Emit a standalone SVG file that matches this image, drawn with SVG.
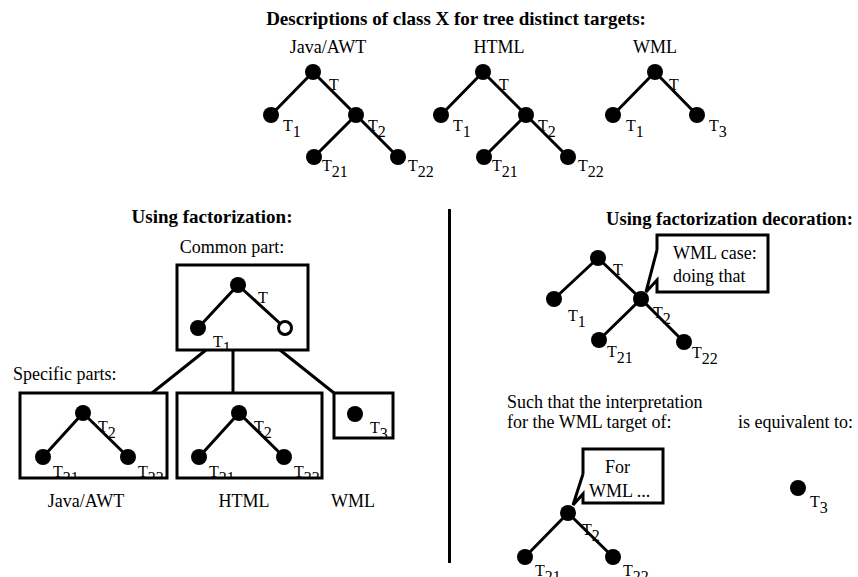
<svg xmlns="http://www.w3.org/2000/svg" width="858" height="577" viewBox="0 0 858 577">
  <style>
    text { font-family: "Liberation Serif", "Times New Roman", serif; fill: #000; }
    .h { font-size: 19px; font-weight: bold; }
    .t { font-size: 18px; }
    .l { font-size: 16px; }
    .e { stroke: #000; stroke-width: 3; fill: none; }
    .box { stroke: #000; stroke-width: 3; fill: none; }
    .dot { fill: #000; }
    .hole { fill: #fff; stroke: #000; stroke-width: 3; }
  </style>
  <defs>
    <clipPath id="clipCommon"><rect x="177" y="265" width="131" height="85"/></clipPath>
    <clipPath id="clipJava"><rect x="20" y="393" width="147" height="85"/></clipPath>
    <clipPath id="clipHtml"><rect x="177" y="393" width="145" height="85"/></clipPath>
    <clipPath id="clipWml"><rect x="334" y="393" width="59" height="45"/></clipPath>
  </defs>

  <rect width="858" height="577" fill="#fff"/>

  <!-- headings -->
  <text class="h" x="456" y="25" text-anchor="middle">Descriptions of class X for tree distinct targets:</text>
  <text class="t" x="328" y="53" text-anchor="middle">Java/AWT</text>
  <text class="t" x="499" y="53" text-anchor="middle">HTML</text>
  <text class="t" x="655" y="53" text-anchor="middle">WML</text>

  <!-- connectors -->
  <g id="connectors">
    <!-- top row trees -->
    <path class="e" d="M313,72 L271,115 M313,72 L356,115 L314,157 M356,115 L398,157"/>
    <path class="e" d="M483,72 L441,115 M483,72 L526,115 L484,157 M526,115 L568,157"/>
    <path class="e" d="M655,72 L613,115 M655,72 L697,115"/>
    <!-- common part -->
    <path class="e" d="M238,285 L198,328 M238,285 L285,328"/>
    <!-- common part to specific parts -->
    <path class="e" d="M206,350 L152,393 M233,350 L233,393 M280,350 L334,393"/>
    <!-- specific parts -->
    <path class="e" d="M83,413 L43,457 M83,413 L128,457"/>
    <path class="e" d="M239,413 L199,457 M239,413 L284,457"/>
    <!-- decorated tree -->
    <path class="e" d="M598,258 L554,299 M598,258 L641,299 L599,340 M641,299 L684,342"/>
    <!-- interpreted subtree -->
    <path class="e" d="M568,513 L525,557 M568,513 L613,557"/>
    <!-- divider -->
    <path class="e" d="M449.5,209 L449.5,563"/>
  </g>

  <!-- Java/AWT tree -->
  <g id="tree-java">
    <circle class="dot" cx="313" cy="72" r="8"/>
    <circle class="dot" cx="271" cy="115" r="8"/>
    <circle class="dot" cx="356" cy="115" r="8"/>
    <circle class="dot" cx="314" cy="157" r="8"/>
    <circle class="dot" cx="398" cy="157" r="8"/>
    <text class="l" x="329" y="90">T</text>
    <text class="l" x="283" y="131">T<tspan dy="6">1</tspan></text>
    <text class="l" x="368" y="131">T<tspan dy="6">2</tspan></text>
    <text class="l" x="322" y="171">T<tspan dy="6">21</tspan></text>
    <text class="l" x="408" y="171">T<tspan dy="6">22</tspan></text>
  </g>

  <!-- HTML tree -->
  <g id="tree-html">
    <circle class="dot" cx="483" cy="72" r="8"/>
    <circle class="dot" cx="441" cy="115" r="8"/>
    <circle class="dot" cx="526" cy="115" r="8"/>
    <circle class="dot" cx="484" cy="157" r="8"/>
    <circle class="dot" cx="568" cy="157" r="8"/>
    <text class="l" x="499" y="90">T</text>
    <text class="l" x="453" y="131">T<tspan dy="6">1</tspan></text>
    <text class="l" x="538" y="131">T<tspan dy="6">2</tspan></text>
    <text class="l" x="492" y="171">T<tspan dy="6">21</tspan></text>
    <text class="l" x="578" y="171">T<tspan dy="6">22</tspan></text>
  </g>

  <!-- WML tree -->
  <g id="tree-wml">
    <circle class="dot" cx="655" cy="72" r="8"/>
    <circle class="dot" cx="613" cy="115" r="8"/>
    <circle class="dot" cx="697" cy="115" r="8"/>
    <text class="l" x="669" y="90">T</text>
    <text class="l" x="626" y="131">T<tspan dy="6">1</tspan></text>
    <text class="l" x="709" y="131">T<tspan dy="6">3</tspan></text>
  </g>

  <!-- factorization -->
  <text class="h" x="212" y="223" text-anchor="middle">Using factorization:</text>
  <text class="t" x="232" y="253" text-anchor="middle">Common part:</text>
  <text class="t" x="13" y="380">Specific parts:</text>

  <g id="common-part">
    <g clip-path="url(#clipCommon)">
      <circle class="dot" cx="238" cy="285" r="8"/>
      <circle class="dot" cx="198" cy="328" r="8"/>
      <circle class="hole" cx="285" cy="328" r="6.5"/>
      <text class="l" x="258" y="303">T</text>
      <text class="l" x="213" y="347">T<tspan dy="6">1</tspan></text>
    </g>
    <rect class="box" x="177" y="265" width="131" height="85"/>
  </g>

  <g id="specific-java">
    <g clip-path="url(#clipJava)">
      <circle class="dot" cx="83" cy="413" r="8"/>
      <circle class="dot" cx="43" cy="457" r="8"/>
      <circle class="dot" cx="128" cy="457" r="8"/>
      <text class="l" x="98" y="432">T<tspan dy="6">2</tspan></text>
      <text class="l" x="53" y="477">T<tspan dy="6">21</tspan></text>
      <text class="l" x="138" y="477">T<tspan dy="6">22</tspan></text>
    </g>
    <rect class="box" x="20" y="393" width="147" height="85"/>
  </g>

  <g id="specific-html">
    <g clip-path="url(#clipHtml)">
      <circle class="dot" cx="239" cy="413" r="8"/>
      <circle class="dot" cx="199" cy="457" r="8"/>
      <circle class="dot" cx="284" cy="457" r="8"/>
      <text class="l" x="254" y="432">T<tspan dy="6">2</tspan></text>
      <text class="l" x="209" y="477">T<tspan dy="6">21</tspan></text>
      <text class="l" x="294" y="477">T<tspan dy="6">22</tspan></text>
    </g>
    <rect class="box" x="177" y="393" width="145" height="85"/>
  </g>

  <g id="specific-wml">
    <g clip-path="url(#clipWml)">
      <circle class="dot" cx="355" cy="414" r="8"/>
      <text class="l" x="370" y="433">T<tspan dy="6">3</tspan></text>
    </g>
    <rect class="box" x="334" y="393" width="59" height="45"/>
  </g>

  <text class="t" x="86" y="507" text-anchor="middle">Java/AWT</text>
  <text class="t" x="244" y="507" text-anchor="middle">HTML</text>
  <text class="t" x="353" y="507" text-anchor="middle">WML</text>

  <!-- factorization decoration -->
  <text class="h" x="606" y="225" style="font-size:18.6px">Using factorization decoration:</text>

  <g id="tree-decorated">
    <circle class="dot" cx="598" cy="258" r="8"/>
    <circle class="dot" cx="554" cy="299" r="8"/>
    <circle class="dot" cx="641" cy="299" r="8"/>
    <circle class="dot" cx="599" cy="340" r="8"/>
    <circle class="dot" cx="684" cy="342" r="8"/>
    <text class="l" x="613" y="275">T</text>
    <text class="l" x="568" y="321">T<tspan dy="6">1</tspan></text>
    <text class="l" x="653" y="318">T<tspan dy="6">2</tspan></text>
    <text class="l" x="607" y="357">T<tspan dy="6">21</tspan></text>
    <text class="l" x="692" y="358">T<tspan dy="6">22</tspan></text>
  </g>

  <g id="note-wml-case">
    <path class="box" d="M657,250 V235 H768 V292 H657 V280 L646,292 L657,250"/>
    <text class="t" x="673" y="259">WML case:</text>
    <text class="t" x="673" y="282">doing that</text>
  </g>

  <text class="t" x="507" y="408">Such that the interpretation</text>
  <text class="t" x="507" y="428">for the WML target of:</text>
  <text class="t" x="738" y="428">is equivalent to:</text>

  <g id="note-for-wml">
    <path class="box" d="M583,474 V449 H663 V503 H583 V494 L573,505 L583,474"/>
    <text class="t" x="605" y="473">For</text>
    <text class="t" x="589" y="497">WML ...</text>
  </g>

  <g id="tree-interpreted">
    <circle class="dot" cx="568" cy="513" r="8"/>
    <circle class="dot" cx="525" cy="557" r="8"/>
    <circle class="dot" cx="613" cy="557" r="8"/>
    <text class="l" x="582" y="535">T<tspan dy="6">2</tspan></text>
    <text class="l" x="535" y="576">T<tspan dy="6">21</tspan></text>
    <text class="l" x="623" y="576">T<tspan dy="6">22</tspan></text>
  </g>

  <g id="leaf-t3">
    <circle class="dot" cx="798" cy="488" r="8"/>
    <text class="l" x="810" y="507">T<tspan dy="6">3</tspan></text>
  </g>
</svg>
